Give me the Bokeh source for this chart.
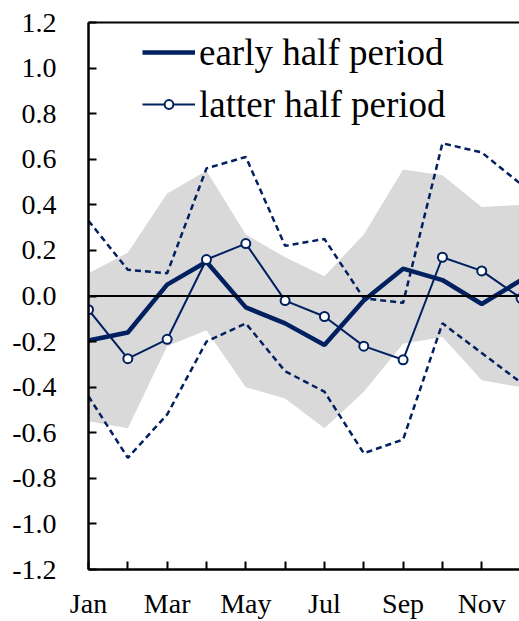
from bokeh.plotting import figure
from bokeh.models import (Range1d, FixedTicker, PrintfTickFormatter, Span, Legend,
                          LegendItem, LinearAxis)
from bokeh.embed import file_html
from bokeh.resources import INLINE

months = ["Jan", "Feb", "Mar", "Apr", "May", "Jun", "Jul", "Aug", "Sep", "Oct", "Nov", "Dec"]
early = [-0.195, -0.16, 0.05, 0.15, -0.05, -0.12, -0.215, -0.02, 0.12, 0.07, -0.035, 0.07]
latter = [-0.06, -0.275, -0.19, 0.16, 0.23, -0.02, -0.09, -0.22, -0.28, 0.17, 0.11, -0.01]
latter_upper = [0.33, 0.115, 0.10, 0.56, 0.61, 0.22, 0.25, -0.01, -0.03, 0.67, 0.63, 0.49]
latter_lower = [-0.44, -0.71, -0.52, -0.20, -0.12, -0.33, -0.42, -0.69, -0.63, -0.12, -0.25, -0.38]
early_upper = [0.10, 0.19, 0.45, 0.55, 0.27, 0.17, 0.087, 0.27, 0.555, 0.53, 0.39, 0.40]
early_lower = [-0.55, -0.58, -0.22, -0.15, -0.40, -0.45, -0.58, -0.42, -0.21, -0.18, -0.37, -0.40]
y_ticks = [-1.2, -1.0, -0.8, -0.6, -0.4, -0.2, 0.0, 0.2, 0.4, 0.6, 0.8, 1.0, 1.2]

x = list(range(len(months)))
NAVY = "#002060"
FONT = "Liberation Serif"

p = figure(width=519, height=621, output_backend="svg", toolbar_location=None,
           x_range=Range1d(0, 10.96), y_range=Range1d(-1.2, 1.2),
           min_border_left=88, min_border_right=0, min_border_top=22, min_border_bottom=52)
p.grid.visible = False
p.outline_line_color = None
p.background_fill_color = "white"
p.border_fill_color = "white"

# band
p.varea(x=x, y1=early_lower, y2=early_upper, fill_color="#d9d9d9")
p.add_layout(Span(location=0, dimension="width", line_color="black", line_width=2))

p.line(x, latter_upper, line_color=NAVY, line_width=2.5, line_dash="6 4")
p.line(x, latter_lower, line_color=NAVY, line_width=2.5, line_dash="6 4")
r_early = p.line(x, early, line_color=NAVY, line_width=4.5)
r_latter = p.line(x, latter, line_color=NAVY, line_width=2)
r_mark = p.scatter(x, latter, marker="circle", size=9, fill_color="white",
                   line_color=NAVY, line_width=2)

# axes
xa = p.xaxis[0]
xa.ticker = FixedTicker(ticks=x)
xa.major_label_overrides = {i: (months[i] if i % 2 == 0 else "") for i in x}
ya = p.yaxis[0]
ya.ticker = FixedTicker(ticks=y_ticks)
ya.formatter = PrintfTickFormatter(format="%.1f")
for ax in (xa, ya):
    ax.major_tick_in = 8
    ax.major_tick_out = 0
    ax.minor_tick_line_color = None
    ax.axis_line_width = 2.5
    ax.axis_line_color = "black"
    ax.major_tick_line_width = 2
    ax.major_tick_line_color = "black"
    ax.major_label_text_font = FONT
    ax.major_label_text_font_size = "28px"
    ax.major_label_text_color = "black"
xa.major_label_standoff = 18
ya.major_label_standoff = 32

top = LinearAxis(ticker=FixedTicker(ticks=[]), major_tick_line_color=None,
                 minor_tick_line_color=None, major_label_text_font_size="0px",
                 axis_line_width=2, axis_line_color="black")
p.add_layout(top, "above")

legend = Legend(items=[LegendItem(label="early half period", renderers=[r_early]),
                       LegendItem(label="latter half period", renderers=[r_latter, r_mark])],
                location=(54, 443), label_text_font=FONT, label_text_font_size="37px",
                label_text_color="black",
                glyph_width=53, glyph_height=22, label_height=44, spacing=8,
                padding=0, margin=0, border_line_color=None, background_fill_alpha=0,
                label_standoff=4)
p.add_layout(legend)

open("out.html", "w").write(file_html(p, INLINE))
